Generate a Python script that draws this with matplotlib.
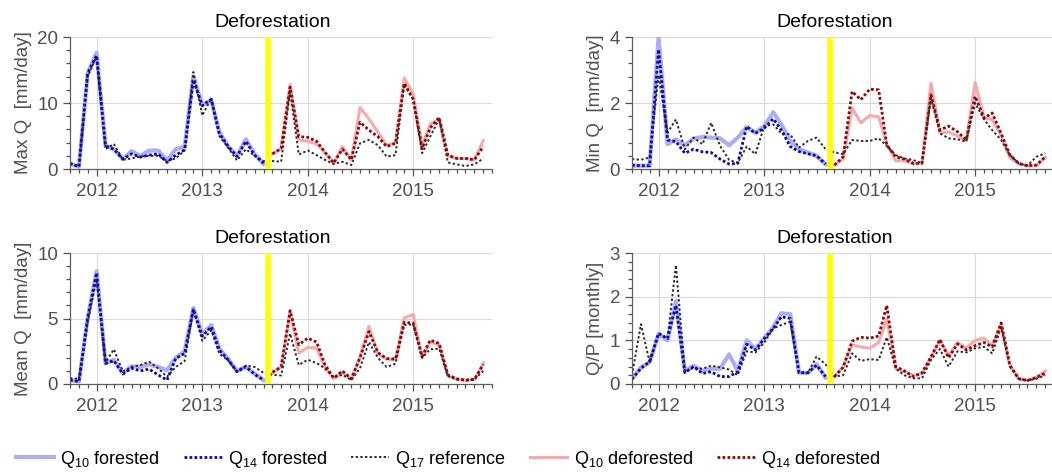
import pandas as pd
import matplotlib
matplotlib.use('Agg')
import matplotlib.pyplot as plt
import matplotlib.dates as mdates
import matplotlib.transforms as mtransforms
from matplotlib.ticker import MultipleLocator

plt.rcParams['font.family'] = ['Liberation Sans', 'DejaVu Sans']
plt.rcParams['mathtext.default'] = 'regular'

months = pd.date_range('2011-10-01', '2015-09-01', freq='MS')
forest_months = months[:23]
defor_months = months[23:]
switch_date = pd.Timestamp('2013-08-15')
title_date = pd.Timestamp('2013-09-01')

# --- Max Q [mm/day]
maxq_q10_for = [0.8, 0.35, 14.5, 17.6, 3.5, 3.0, 1.5, 2.7, 2.0, 2.8, 2.8, 1.3,
                3.0, 3.4, 14.0, 9.7, 10.4, 5.6, 3.4, 2.0, 4.5, 2.3, 0.8]
maxq_q14_for = [0.86, 0.35, 14.5, 17.2, 3.5, 3.0, 1.5, 2.3, 1.8, 2.1, 2.3, 1.0,
                2.1, 2.9, 13.5, 9.6, 10.6, 5.4, 3.4, 1.9, 4.2, 2.1, 0.86]
maxq_q17 = [0.8, 0.4, 14.0, 17.0, 3.0, 3.8, 1.4, 1.6, 1.9, 2.0, 2.0, 1.2,
            1.6, 2.8, 14.7, 8.1, 10.7, 5.0, 3.2, 1.3, 3.0, 2.0, 1.2, 1.2,
            1.1, 11.8, 2.2, 2.8, 2.1, 1.4, 0.75, 1.1, 0.6, 3.9, 4.4, 3.6,
            1.9, 2.1, 12.8, 10.5, 2.4, 4.9, 7.6, 1.0, 0.7, 0.45, 0.7, 1.6]
maxq_q10_def = [2.3, 3.1, 12.8, 4.4, 4.2, 3.8, 2.5, 0.9, 3.4, 1.4, 9.3, 7.6,
                5.6, 3.6, 4.0, 13.8, 11.4, 3.5, 6.8, 7.6, 2.0, 1.6, 1.6, 1.4, 4.3]
maxq_q14_def = [2.3, 3.1, 12.4, 4.9, 4.8, 4.2, 2.6, 0.9, 3.0, 1.4, 7.1, 5.9,
                4.9, 3.4, 3.9, 13.0, 10.6, 3.1, 6.2, 7.8, 2.1, 1.6, 1.6, 1.4, 3.4]

# --- Min Q [mm/day]
minq_q10_for = [0.1, 0.1, 0.1, 4.0, 0.75, 0.9, 0.72, 0.92, 0.97, 0.95, 0.93, 0.72,
                0.95, 1.27, 1.1, 1.3, 1.72, 1.35, 0.85, 0.6, 0.5, 0.4, 0.15]
minq_q14_for = [0.12, 0.1, 0.1, 3.62, 0.88, 0.83, 0.48, 0.6, 0.52, 0.5, 0.3, 0.15,
                0.17, 1.29, 1.08, 1.24, 1.52, 1.18, 0.68, 0.53, 0.46, 0.4, 0.15]
minq_q17 = [0.3, 0.28, 0.35, 2.85, 1.1, 1.5, 0.6, 0.95, 0.75, 1.4, 0.7, 0.28,
            0.18, 0.68, 0.45, 1.3, 1.35, 1.08, 1.05, 0.65, 0.85, 0.95, 0.6, 0.5,
            0.45, 0.88, 0.85, 0.85, 0.93, 0.7, 0.42, 0.32, 0.27, 0.17, 2.15, 1.08,
            0.93, 0.9, 0.83, 2.0, 1.5, 1.18, 0.88, 0.43, 0.17, 0.1, 0.37, 0.48]
minq_q10_def = [0.12, 0.3, 1.85, 1.4, 1.62, 1.58, 0.75, 0.25, 0.25, 0.15, 0.2, 2.6,
                1.1, 1.12, 1.0, 0.85, 2.62, 1.55, 1.5, 1.0, 0.35, 0.15, 0.1, 0.1, 0.35]
minq_q14_def = [0.12, 0.37, 2.35, 2.1, 2.42, 2.4, 0.73, 0.37, 0.3, 0.17, 0.17, 2.25,
                1.18, 1.3, 1.13, 0.88, 2.2, 1.54, 1.7, 1.08, 0.43, 0.17, 0.1, 0.12, 0.37]

# --- Mean Q [mm/day]
meanq_q10_for = [0.3, 0.2, 5.0, 8.6, 1.6, 1.85, 0.85, 1.35, 1.3, 1.5, 1.3, 1.05,
                 2.0, 2.5, 5.8, 3.8, 4.5, 2.7, 1.9, 1.0, 1.3, 0.8, 0.3]
meanq_q14_for = [0.3, 0.18, 5.0, 8.48, 1.57, 1.78, 0.76, 1.2, 1.0, 1.14, 0.69, 0.3,
                 1.95, 2.33, 5.7, 3.65, 4.37, 2.59, 1.83, 0.94, 1.32, 0.74, 0.3]
meanq_q17 = [0.45, 0.4, 4.7, 8.0, 1.65, 2.65, 0.95, 1.3, 1.45, 1.7, 1.2, 0.55,
             1.3, 1.75, 5.7, 3.3, 4.1, 2.3, 1.8, 0.95, 1.4, 1.3, 0.85, 0.7,
             0.65, 3.85, 1.45, 1.85, 1.6, 1.2, 0.5, 0.7, 0.3, 1.2, 3.2, 2.0,
             1.3, 1.55, 4.5, 4.55, 2.0, 2.65, 2.7, 0.6, 0.35, 0.25, 0.35, 1.0]
meanq_q10_def = [0.85, 1.3, 5.5, 2.35, 2.8, 2.75, 1.3, 0.4, 0.9, 0.35, 2.1, 4.4,
                 2.3, 1.9, 1.85, 5.05, 5.3, 2.0, 3.2, 3.0, 0.65, 0.35, 0.3, 0.35, 1.6]
meanq_q14_def = [0.9, 1.3, 5.6, 3.0, 3.5, 3.2, 1.5, 0.45, 1.0, 0.4, 2.0, 4.0,
                 2.4, 1.95, 1.9, 4.7, 4.65, 2.1, 3.35, 3.1, 0.7, 0.4, 0.3, 0.35, 1.5]

# --- Q/P [monthly]
qp_q10_for = [0.12, 0.38, 0.5, 1.15, 1.0, 1.9, 0.3, 0.42, 0.3, 0.35, 0.35, 0.68,
              0.3, 1.0, 0.8, 1.05, 1.3, 1.62, 1.6, 0.26, 0.25, 0.45, 0.15]
qp_q14_for = [0.11, 0.36, 0.51, 1.16, 1.04, 1.8, 0.26, 0.4, 0.24, 0.28, 0.17, 0.17,
              0.28, 0.91, 0.78, 1.04, 1.27, 1.54, 1.5, 0.26, 0.26, 0.43, 0.17]
qp_q17 = [0.2, 1.37, 0.5, 1.15, 1.05, 2.72, 0.28, 0.37, 0.35, 0.42, 0.38, 0.33,
          0.2, 0.75, 0.72, 0.95, 1.27, 1.35, 1.43, 0.26, 0.25, 0.63, 0.45, 0.17,
          0.2, 0.7, 0.53, 0.57, 0.55, 1.07, 0.35, 0.2, 0.13, 0.13, 0.55, 0.8,
          0.4, 0.75, 0.72, 0.82, 0.85, 0.7, 1.3, 0.4, 0.12, 0.08, 0.12, 0.2]
qp_q10_def = [0.17, 0.4, 0.9, 0.85, 0.82, 0.95, 1.5, 0.35, 0.28, 0.2, 0.25, 0.6,
              1.0, 0.65, 0.95, 0.82, 1.0, 1.05, 0.88, 1.35, 0.43, 0.12, 0.08, 0.15, 0.3]
qp_q14_def = [0.17, 0.38, 0.98, 1.07, 1.05, 1.1, 1.8, 0.4, 0.3, 0.17, 0.25, 0.62,
              1.02, 0.6, 0.92, 0.78, 0.88, 0.95, 0.85, 1.4, 0.43, 0.12, 0.08, 0.15, 0.25]

ylabels = ['Max Q  [mm/day]', 'Min Q  [mm/day]', 'Mean Q  [mm/day]', 'Q/P [monthly]']
ylims = [20, 4, 10, 3]
major_steps = [10, 2, 5, 1]
minor_steps = [2, 0.4, 1, 0.2]
panel_data = [
    (maxq_q10_for, maxq_q14_for, maxq_q17, maxq_q10_def, maxq_q14_def),
    (minq_q10_for, minq_q14_for, minq_q17, minq_q10_def, minq_q14_def),
    (meanq_q10_for, meanq_q14_for, meanq_q17, meanq_q10_def, meanq_q14_def),
    (qp_q10_for, qp_q14_for, qp_q17, qp_q10_def, qp_q14_def),
]

W, H = 1052, 474
boxes = [(70, 37, 422, 132), (632, 37, 422, 132),
         (70, 253, 422, 131), (632, 253, 422, 131)]

gray = '#505050'
fig = plt.figure(figsize=(W / 100, H / 100), dpi=100)

for k, (x0, y0, w, h) in enumerate(boxes):
    ax = fig.add_axes([x0 / W, 1 - (y0 + h) / H, w / W, h / H])
    q10f, q14f, q17, q10d, q14d = panel_data[k]

    ax.plot(forest_months, q10f, color='#aaaef3', lw=3.0, solid_joinstyle='round',
            label='Q$_{10}$ forested')
    ax.plot(defor_months, q10d, color='#f5abab', lw=2.2,
            label='Q$_{10}$ deforested')
    ax.plot(months, q17, color='#2a2a2a', lw=1.4, ls=(0, (1.2, 1.2)),
            label='Q$_{17}$ reference')
    ax.plot(forest_months, q14f, color='#0b0ba5', lw=2.0, ls=(0, (1, 0.8)),
            label='Q$_{14}$ forested')
    ax.plot(defor_months, q14d, color='#8a0a0a', lw=2.0, ls=(0, (1, 0.8)),
            label='Q$_{14}$ deforested')

    ax.axvline(switch_date, color='#ffff00', lw=4, zorder=5)

    ax.set_xlim(pd.Timestamp('2011-10-01'), pd.Timestamp('2015-10-01'))
    ax.set_ylim(0, ylims[k])
    ax.xaxis.set_major_locator(mdates.YearLocator())
    ax.xaxis.set_major_formatter(mdates.DateFormatter('%Y'))
    ax.xaxis.set_minor_locator(mdates.MonthLocator())
    ax.yaxis.set_major_locator(MultipleLocator(major_steps[k]))
    ax.yaxis.set_minor_locator(MultipleLocator(minor_steps[k]))
    ax.tick_params(which='both', direction='out', colors=gray, labelsize=13.5, width=0.9)
    ax.tick_params(which='major', length=5)
    ax.tick_params(which='minor', length=3)
    ax.tick_params(axis='x', which='major', pad=5)
    for side in ['top', 'right']:
        ax.spines[side].set_visible(False)
    for side in ['left', 'bottom']:
        ax.spines[side].set_color('#606060')
        ax.spines[side].set_linewidth(0.9)
    ax.grid(True, which='major', color='#dadada', lw=0.8)
    ax.set_axisbelow(True)
    ax.set_ylabel(ylabels[k], fontsize=13.5, color=gray, labelpad=4)

    trans = mtransforms.blended_transform_factory(ax.transData, ax.transAxes)
    ax.text(title_date, 1.075, 'Deforestation', transform=trans, ha='center',
            va='baseline', fontsize=14, color='black')

    if k == 0:
        handles, labels = ax.get_legend_handles_labels()

order = ['Q$_{10}$ forested', 'Q$_{14}$ forested', 'Q$_{17}$ reference',
         'Q$_{10}$ deforested', 'Q$_{14}$ deforested']
lookup = dict(zip(labels, handles))
fig.legend([lookup[l] for l in order], order, loc='lower left', ncol=5,
           bbox_to_anchor=(0.0, -0.025), frameon=False, fontsize=13,
           handlelength=2.1, handletextpad=0.35, columnspacing=1.3)

fig.savefig('out.png', dpi=100)
